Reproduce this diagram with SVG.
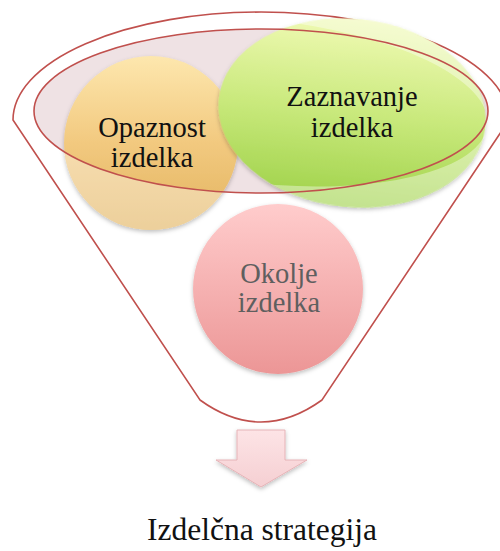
<svg xmlns="http://www.w3.org/2000/svg" width="500" height="551" viewBox="0 0 500 551">
<style>
text{font-family:'Liberation Serif','DejaVu Serif',serif;font-size:28.5px;text-anchor:middle;fill:#111}
.gray{fill:#5f5f5f}
.line{fill:none;stroke:#c0504d;stroke-width:1.6}
</style>
<defs>
<linearGradient id="gOr" x1="0" y1="0" x2="0" y2="1">
<stop offset="0" stop-color="#fde7ae"/><stop offset="0.5" stop-color="#f2c97f"/><stop offset="1" stop-color="#e2b35e"/>
</linearGradient>
<linearGradient id="gGr" x1="0" y1="0" x2="0" y2="1">
<stop offset="0" stop-color="#f0fab4"/><stop offset="0.5" stop-color="#c9e97c"/><stop offset="1" stop-color="#9fd24a"/>
</linearGradient>
<linearGradient id="gPk" x1="0" y1="0" x2="0" y2="1">
<stop offset="0" stop-color="#ffcccc"/><stop offset="1" stop-color="#ec9696"/>
</linearGradient>
<linearGradient id="gAr" x1="0" y1="0" x2="0" y2="1">
<stop offset="0" stop-color="#fde4e6"/><stop offset="1" stop-color="#f5cfd2"/>
</linearGradient>
<filter id="sh" x="-20%" y="-20%" width="140%" height="140%">
<feDropShadow dx="0" dy="2" stdDeviation="2" flood-color="#000" flood-opacity="0.25"/>
</filter>
<mask id="outside">
<rect x="0" y="0" width="500" height="551" fill="#fff"/>
<ellipse cx="261" cy="111" rx="227" ry="82" fill="#000"/>
</mask>
</defs>
<g id="funnel">
<path class="line" d="M13,120 A248,108 0 0 1 509,120 L322,400 Q261,444 200,400 Z"/>
</g>
<g id="inner-ellipse-fill">
<ellipse cx="261" cy="111" rx="227" ry="82" fill="#efe2e4"/>
</g>
<g id="node-opaznost">
<circle cx="151" cy="143" r="87" fill="url(#gOr)" filter="url(#sh)"/>
<circle cx="151" cy="143" r="87" fill="#fff" opacity="0.38" mask="url(#outside)"/>
<text font-family="Liberation Serif, serif" x="152" y="137">Opaznost</text>
<text font-family="Liberation Serif, serif" x="152" y="167">izdelka</text>
</g>
<g id="node-zaznavanje">
<g transform="rotate(6 352 113)">
<ellipse cx="352" cy="113" rx="134" ry="94" fill="url(#gGr)" filter="url(#sh)"/>
<ellipse cx="352" cy="113" rx="134" ry="94" fill="#fff" opacity="0.38" mask="url(#outside)"/>
</g>
<text x="352" y="106">Zaznavanje</text>
<text x="352" y="137">izdelka</text>
</g>
<g id="inner-ellipse-outline">
<ellipse class="line" cx="261" cy="111" rx="227" ry="82"/>
</g>
<g id="node-okolje">
<circle cx="278" cy="289" r="85" fill="url(#gPk)" filter="url(#sh)"/>
<text class="gray" x="279" y="283">Okolje</text>
<text class="gray" x="279" y="312">izdelka</text>
</g>
<g id="connectors">
<polygon points="237,430 285,430 285,460 307,460 261,487 216,460 237,460" fill="url(#gAr)" stroke="#e6b3b7" stroke-width="1" filter="url(#sh)"/>
</g>
<g id="result">
<text x="262" y="540" style="font-size:31.5px">Izdelčna strategija</text>
</g>
</svg>
